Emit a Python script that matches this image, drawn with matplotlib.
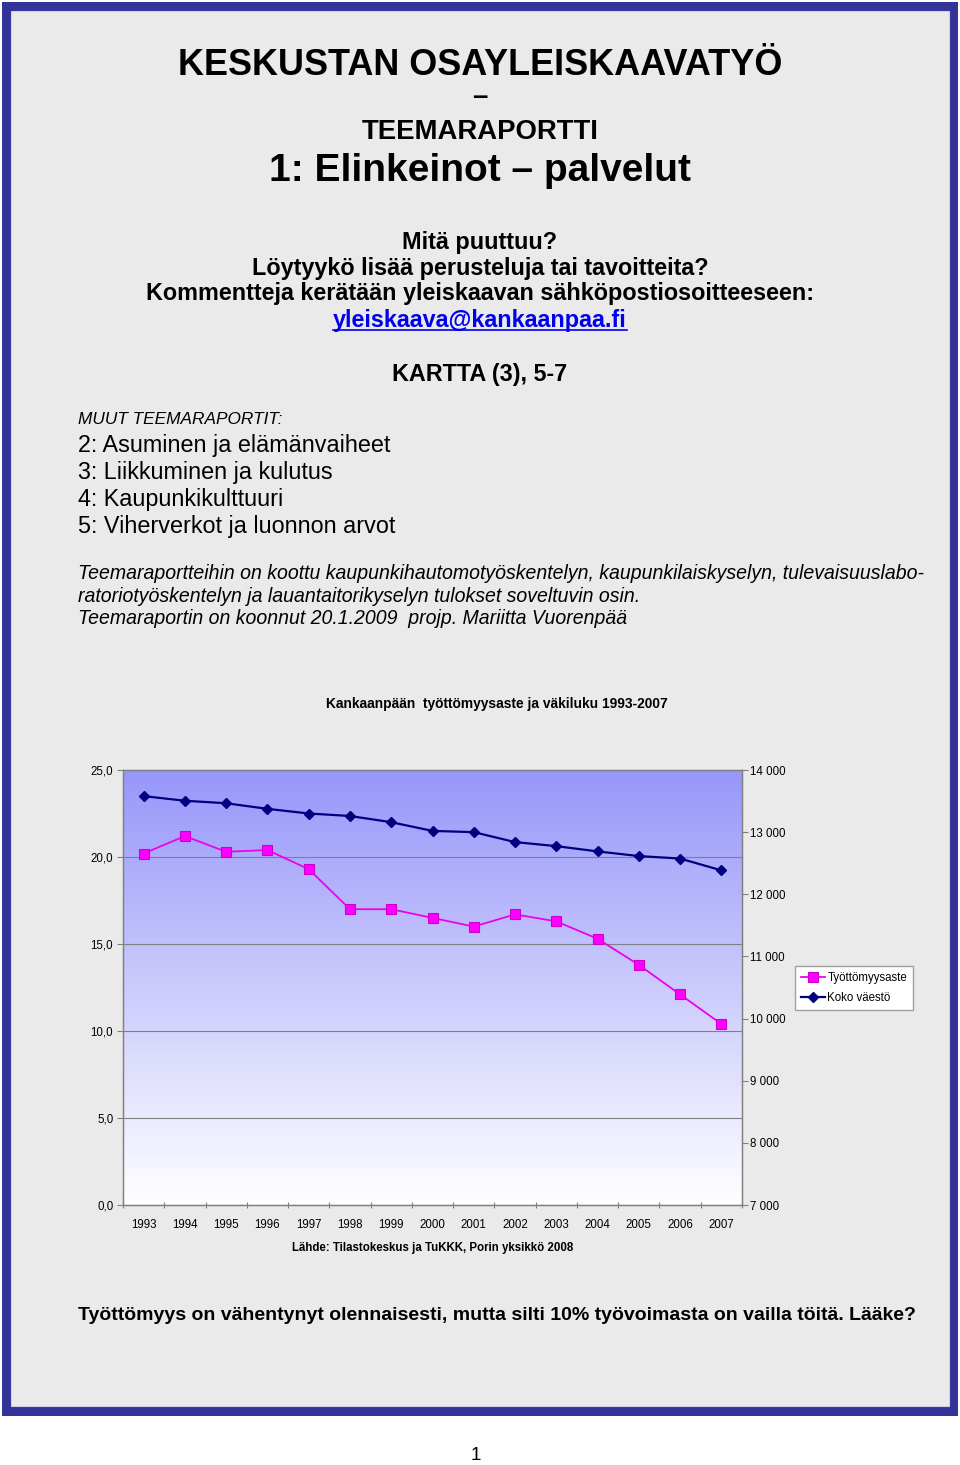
import numpy as np
import matplotlib
matplotlib.use('Agg')
import matplotlib.pyplot as plt
from matplotlib.patches import Rectangle
from matplotlib.lines import Line2D
from matplotlib.colors import LinearSegmentedColormap
from matplotlib.ticker import FixedLocator, FuncFormatter

# data
years = ['1993', '1994', '1995', '1996', '1997', '1998', '1999', '2000',
         '2001', '2002', '2003', '2004', '2005', '2006', '2007']
unemployment = [20.2, 21.2, 20.3, 20.4, 19.3, 17.0, 17.0, 16.5,
                16.0, 16.7, 16.3, 15.3, 13.8, 12.1, 10.4]
population = [13580, 13505, 13465, 13375, 13300, 13260, 13160, 13020,
              13000, 12840, 12775, 12690, 12615, 12575, 12385]
series_names = ['Työttömyysaste', 'Koko väestö']

left_ticks = [0, 5, 10, 15, 20, 25]
right_ticks = [7000, 8000, 9000, 10000, 11000, 12000, 13000, 14000]

W, H = 960, 1465
plt.rcParams['font.family'] = ['Liberation Sans', 'DejaVu Sans']

fig = plt.figure(figsize=(W / 100, H / 100), dpi=100, facecolor='white')


def fx(x):
    return x / W


def fy(y):
    return 1 - y / H


def text(x, y, s, **kw):
    kw.setdefault('va', 'baseline')
    return fig.text(fx(x), fy(y), s, **kw)


# page frame
fig.add_artist(Rectangle((fx(2), fy(1416)), fx(956), 1414 / H,
                         transform=fig.transFigure, facecolor='#333399',
                         edgecolor='none', zorder=0))
fig.add_artist(Rectangle((fx(11), fy(1406)), fx(938), 1395 / H,
                         transform=fig.transFigure, facecolor='#EAEAEA',
                         edgecolor='#D0D0E8', lw=0.8, zorder=0))

# header
text(480, 75, 'KESKUSTAN OSAYLEISKAAVATYÖ', ha='center', fontsize=25.9,
     fontweight='bold')
text(480, 104, '–', ha='center', fontsize=19.8, fontweight='bold')
text(480, 139, 'TEEMARAPORTTI', ha='center', fontsize=19.8, fontweight='bold')
text(480, 181, '1: Elinkeinot – palvelut', ha='center', fontsize=28,
     fontweight='bold')
text(480, 249, 'Mitä puuttuu?', ha='center', fontsize=16.8, fontweight='bold')
text(480, 275, 'Löytyykö lisää perusteluja tai tavoitteita?', ha='center',
     fontsize=16.8, fontweight='bold')
text(480, 300, 'Kommentteja kerätään yleiskaavan sähköpostiosoitteeseen:',
     ha='center', fontsize=16.8, fontweight='bold')
link = text(480, 327, 'yleiskaava@kankaanpaa.fi', ha='center', fontsize=16.8,
            fontweight='bold', color='#0000EE')
text(480, 381, 'KARTTA (3), 5-7', ha='center', fontsize=16.8, fontweight='bold')

text(78, 424, 'MUUT TEEMARAPORTIT:', fontsize=12.4, style='italic')
for i, s in enumerate(['2: Asuminen ja elämänvaiheet',
                       '3: Liikkuminen ja kulutus',
                       '4: Kaupunkikulttuuri',
                       '5: Viherverkot ja luonnon arvot']):
    text(78, 452 + 27 * i, s, fontsize=16.8)

para = ['Teemaraportteihin on koottu kaupunkihautomotyöskentelyn, '
        'kaupunkilaiskyselyn, tulevaisuuslabo-',
        'ratoriotyöskentelyn ja lauantaitorikyselyn tulokset soveltuvin osin.',
        'Teemaraportin on koonnut 20.1.2009  projp. Mariitta Vuorenpää']
for i, s in enumerate(para):
    text(78, 579 + 22.5 * i, s, fontsize=14.05, style='italic')

# chart
text(497, 708, 'Kankaanpään  työttömyysaste ja väkiluku 1993-2007',
     ha='center', fontsize=9.9, fontweight='bold')

ax = fig.add_axes([fx(123), fy(1205), (742 - 123) / W, (1205 - 770) / H])
ax2 = ax.twinx()

grad = np.linspace(0, 1, 256).reshape(-1, 1)
cmap = LinearSegmentedColormap.from_list('bg', ['#FFFFFF', '#9797FB'])
ax.imshow(grad, extent=[0, 1, 0, 1], transform=ax.transAxes, origin='lower',
          cmap=cmap, aspect='auto', zorder=0, interpolation='bilinear')

x = np.arange(len(years))
l1, = ax.plot(x, unemployment, color='#EE00EE', lw=1.3, marker='s', ms=6.5,
              mfc='#FF00FF', mec='#CC00CC', mew=0.8, zorder=3)
l2, = ax2.plot(x, population, color='#000080', lw=1.6, marker='D', ms=5,
               mfc='#000080', mec='#000080', zorder=3)

ax.set_xlim(-0.5, len(years) - 0.5)
ax.set_ylim(0, 25)
ax2.set_ylim(7000, 14000)

ax.set_yticks(left_ticks)
ax.yaxis.set_major_formatter(FuncFormatter(lambda v, p: f'{v:.1f}'.replace('.', ',')))
ax2.set_yticks(right_ticks)
ax2.yaxis.set_major_formatter(FuncFormatter(lambda v, p: f'{int(v):,}'.replace(',', ' ')))
ax.grid(axis='y', color='#808080', lw=0.8, zorder=1)

ax.xaxis.set_major_locator(FixedLocator(np.arange(-0.5, len(years), 1.0)))
ax.xaxis.set_major_formatter(FuncFormatter(lambda v, p: ''))
ax.set_xticks(x, minor=True)
ax.set_xticklabels(years, minor=True)
ax.tick_params(axis='x', which='major', direction='inout', length=5,
               color='#808080')
ax.tick_params(axis='x', which='minor', length=0, pad=10, labelsize=8.3)
ax.tick_params(axis='y', direction='out', length=4, color='#808080',
               pad=3, labelsize=8.3)
ax2.tick_params(axis='y', direction='out', length=4, color='#808080',
                pad=2, labelsize=8.3)

for a in (ax, ax2):
    for sp in a.spines.values():
        sp.set_color('#808080')
        sp.set_linewidth(0.9)

fig.legend([l1, l2], series_names, loc='upper left',
           bbox_to_anchor=(fx(795), fy(966)), fontsize=8.3, frameon=True,
           fancybox=False, edgecolor='#A0A0A0', framealpha=1,
           handlelength=2.1, handletextpad=0.2, borderpad=0.5,
           labelspacing=0.75, borderaxespad=0)

text(433, 1251, 'Lähde: Tilastokeskus ja TuKKK, Porin yksikkö 2008',
     ha='center', fontsize=8.3, fontweight='bold')

text(78, 1320, 'Työttömyys on vähentynyt olennaisesti, mutta silti 10% '
     'työvoimasta on vailla töitä. Lääke?', fontsize=14, fontweight='bold')

text(476, 1460, '1', ha='center', fontsize=13.5)

# underline for the e-mail link
fig.canvas.draw()
bb = link.get_window_extent()
yl = fy(330)
fig.add_artist(Line2D([bb.x0 / W, bb.x1 / W], [yl, yl],
                      transform=fig.transFigure, color='#0000EE', lw=1.2))

fig.savefig('out.png', dpi=100, facecolor='white')
